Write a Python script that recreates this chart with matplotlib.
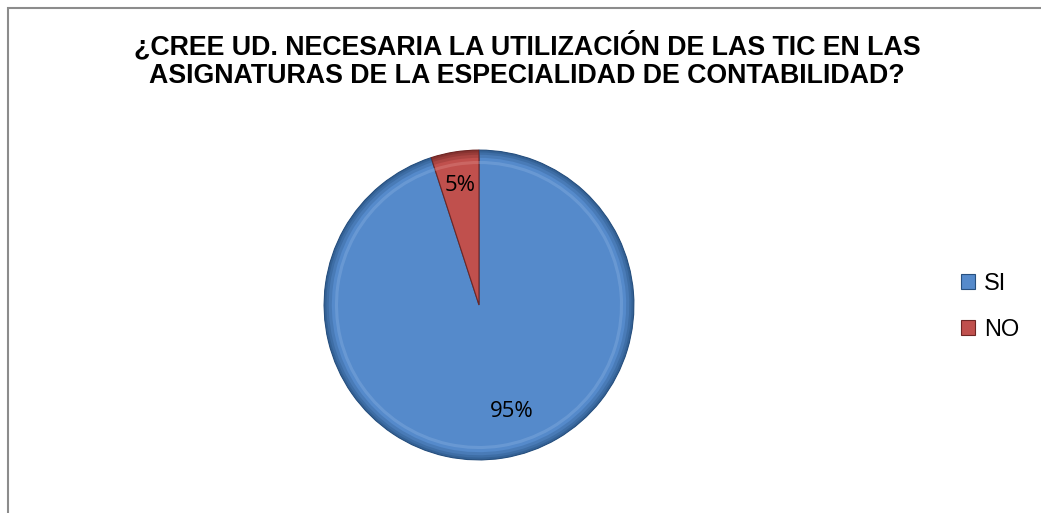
import matplotlib
matplotlib.use('Agg')
from matplotlib import pyplot as plt
from matplotlib.patches import Rectangle, Wedge
import numpy as np

# datos de la encuesta
categorias = ['SI', 'NO']
valores = [95, 5]
colores = ['#558ACB', '#C0504D']
bordes = ['#27507F', '#6E2624']
claros = ['#8DB4E2', '#E0908E']
titulo = ('¿CREE UD. NECESARIA LA UTILIZACIÓN DE LAS TIC EN LAS\n'
          'ASIGNATURAS DE LA ESPECIALIDAD DE CONTABILIDAD?')

fig = plt.figure(figsize=(10.41, 5.13), dpi=100)

# marco del grafico (solo se ven borde izquierdo y superior)
fig.patches.append(Rectangle((7.5 / 1041, -0.1), 1.2, (513 - 8) / 513 + 0.1,
                             transform=fig.transFigure, fill=False,
                             edgecolor='#8c8c8c', linewidth=1.5))

fig.text(527 / 1041, 1 - 60 / 513, titulo, ha='center', va='center',
         fontsize=19.3, fontweight='bold', family='Liberation Sans',
         linespacing=1.15)

# ejes del pastel: centro (479,305), radio 158 px
r = 158
ax = fig.add_axes([(479 - r) / 1041, (513 - 305 - r) / 513, 2 * r / 1041, 2 * r / 513])
wedges, textos, pcts = ax.pie(valores, colors=colores, startangle=90, counterclock=False,
                              autopct='%1.0f%%', pctdistance=0.78,
                              wedgeprops=dict(linewidth=0.8),
                              textprops=dict(fontsize=16, family='Open Sans'))
for w, b in zip(wedges, bordes):
    w.set_edgecolor(b)

# etiqueta del 95% algo desplazada hacia la derecha, como en Excel
ang = np.deg2rad((wedges[0].theta1 + wedges[0].theta2) / 2 + 8)
pcts[0].set_position((0.72 * np.cos(ang), 0.72 * np.sin(ang)))

# efecto de bisel: borde oscuro y brillo interior
for w, b, c in zip(wedges, bordes, claros):
    for width, a in [(0.05, 0.25), (0.03, 0.3), (0.015, 0.4)]:
        ax.add_patch(Wedge(w.center, w.r, w.theta1, w.theta2, width=width,
                           facecolor=b, edgecolor='none', alpha=a))
    ax.add_patch(Wedge(w.center, w.r * 0.93, w.theta1, w.theta2, width=0.02,
                       facecolor=c, edgecolor='none', alpha=0.35))

ax.set_xlim(-1.02, 1.02)
ax.set_ylim(-1.02, 1.02)
ax.set_aspect('equal')
ax.axis('off')

leg = fig.legend(wedges, categorias, loc='center left',
                 bbox_to_anchor=(940 / 1041, 1 - 307 / 513),
                 frameon=False, prop=dict(family='Liberation Sans', size=17),
                 handlelength=0.6, handleheight=0.6, handletextpad=0.35,
                 labelspacing=1.0)

plt.savefig('out.png', dpi=100)
